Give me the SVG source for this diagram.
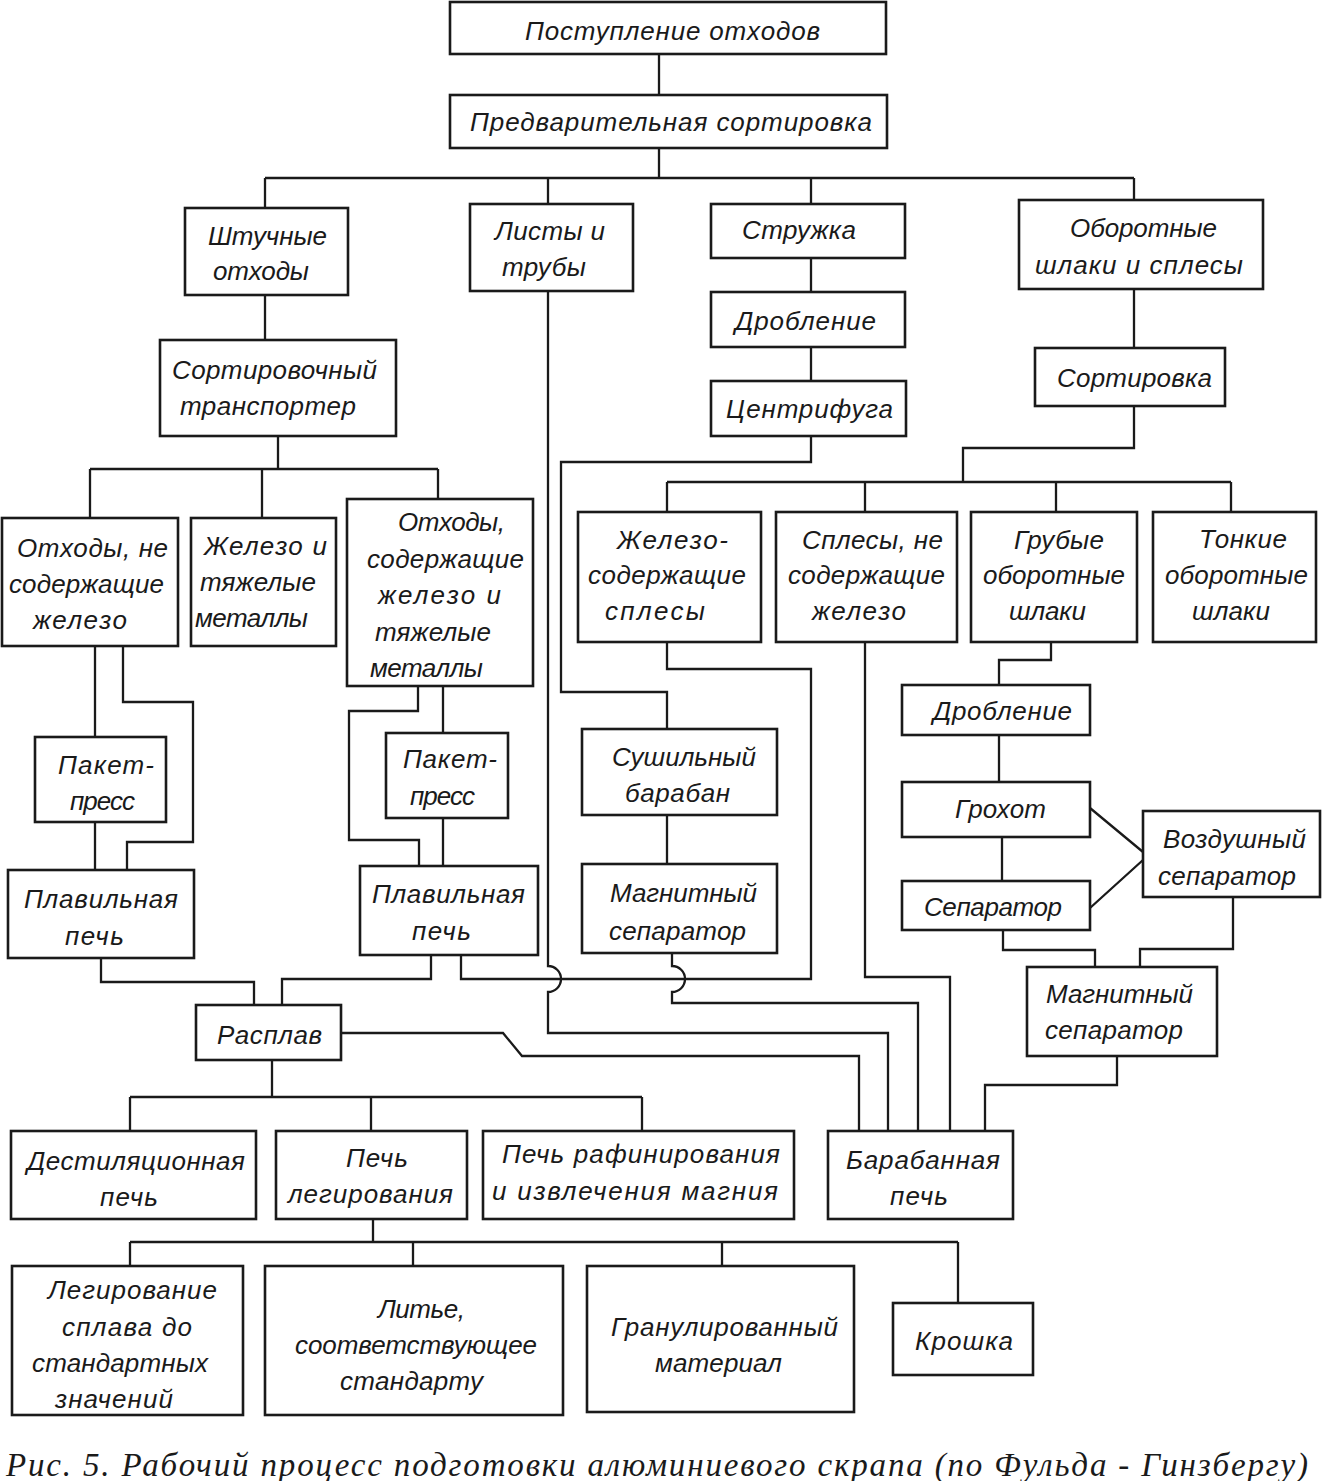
<svg xmlns="http://www.w3.org/2000/svg" width="1323" height="1481" viewBox="0 0 1323 1481">
<style>
.b{fill:#fff;stroke:#1a1a1a;stroke-width:2.6}
.c{fill:none;stroke:#1a1a1a;stroke-width:2.3;stroke-linejoin:miter}
.t{font-family:"Liberation Sans","DejaVu Sans",sans-serif;font-style:italic;font-size:26px;fill:#1a1a1a}
.cap{font-family:"Liberation Serif","DejaVu Serif",serif;font-style:italic;font-size:33px;fill:#1a1a1a}
</style>
<rect width="1323" height="1481" fill="#fff"/>
<g id="connectors">
<path class="c" d="M659 54V95"/>
<path class="c" d="M659 148V178M265 178H1134M265 178V208M548 178V204M811 178V204M1134 178V200"/>
<path class="c" d="M811 258V292M811 347V381M265 295V340M1134 289V348"/>
<path class="c" d="M811 436V462H561V692H667V729"/>
<path class="c" d="M278 436V469M90 469H438M90 469V518M262 469V518M438 469V499"/>
<path class="c" d="M1134 406V448H963V482M667 482H1231M667 482V512M865 482V512M1056 482V512M1231 482V512"/>
<path class="c" d="M1051 642V660H999V685M999 735V782M1002 837V881"/>
<path class="c" d="M1090 808L1143 852M1090 908L1143 860"/>
<path class="c" d="M1003 930V950H1095V967M1233 897V949H1140V967"/>
<path class="c" d="M1117 1056V1085H985V1131"/>
<path class="c" d="M95 646V737M95 822V870M123 646V702H193V842H127V870"/>
<path class="c" d="M443 686V733M443 818V866M418 686V711H349V840H419V866"/>
<path class="c" d="M667 815V864"/>
<path class="c" d="M101 958V982H254V1005M431 955V979H282V1005"/>
<path class="c" d="M461 955V979H811V669H667V642"/>
<path class="c" d="M548 291V966A13 13 0 0 1 548 992V1033H888V1131"/>
<path class="c" d="M672 953V966A13 13 0 0 1 672 992V1003H918V1131"/>
<path class="c" d="M865 642V977H950V1131"/>
<path class="c" d="M341 1033H503L522 1056H859V1131"/>
<path class="c" d="M272 1060V1097M130 1097H642M130 1097V1131M371 1097V1131M642 1097V1131"/>
<path class="c" d="M373 1219V1242M130 1242H958M130 1242V1266M413 1242V1266M722 1242V1266M958 1242V1303"/>
</g>
<g id="n1"><rect class="b" x="450" y="2" width="436" height="52"/><text class="t" x="525" y="40" textLength="295">Поступление отходов</text></g>
<g id="n2"><rect class="b" x="450" y="95" width="437" height="53"/><text class="t" x="470" y="131" textLength="402">Предварительная сортировка</text></g>
<g id="n3"><rect class="b" x="185" y="208" width="163" height="87"/><text class="t" x="208" y="245" textLength="119">Штучные</text><text class="t" x="213" y="280" textLength="96">отходы</text></g>
<g id="n4"><rect class="b" x="470" y="204" width="163" height="87"/><text class="t" x="495" y="240" textLength="110">Листы и</text><text class="t" x="502" y="276" textLength="84">трубы</text></g>
<g id="n5"><rect class="b" x="711" y="204" width="194" height="54"/><text class="t" x="742" y="239" textLength="114">Стружка</text></g>
<g id="n6"><rect class="b" x="1019" y="200" width="244" height="89"/><text class="t" x="1070" y="237" textLength="147">Оборотные</text><text class="t" x="1035" y="274" textLength="208">шлаки и сплесы</text></g>
<g id="n7"><rect class="b" x="711" y="292" width="194" height="55"/><text class="t" x="735" y="330" textLength="141">Дробление</text></g>
<g id="n8"><rect class="b" x="711" y="381" width="195" height="55"/><text class="t" x="726" y="418" textLength="167">Центрифуга</text></g>
<g id="n9"><rect class="b" x="160" y="340" width="236" height="96"/><text class="t" x="172" y="379" textLength="205">Сортировочный</text><text class="t" x="180" y="415" textLength="176">транспортер</text></g>
<g id="n10"><rect class="b" x="1035" y="348" width="190" height="58"/><text class="t" x="1057" y="387" textLength="155">Сортировка</text></g>
<g id="n11"><rect class="b" x="2" y="518" width="176" height="128"/><text class="t" x="17" y="557" textLength="151">Отходы, не</text><text class="t" x="9" y="593" textLength="155">содержащие</text><text class="t" x="33" y="629" textLength="94">железо</text></g>
<g id="n12"><rect class="b" x="191" y="518" width="145" height="128"/><text class="t" x="204" y="555" textLength="123">Железо и</text><text class="t" x="200" y="591" textLength="116">тяжелые</text><text class="t" x="195" y="627" textLength="113">металлы</text></g>
<g id="n13"><rect class="b" x="347" y="499" width="186" height="187"/><text class="t" x="398" y="531" textLength="107">Отходы,</text><text class="t" x="367" y="568" textLength="157">содержащие</text><text class="t" x="378" y="604" textLength="123">железо и</text><text class="t" x="375" y="641" textLength="116">тяжелые</text><text class="t" x="370" y="677" textLength="113">металлы</text></g>
<g id="n14"><rect class="b" x="578" y="512" width="183" height="130"/><text class="t" x="617" y="549" textLength="111">Железо-</text><text class="t" x="588" y="584" textLength="158">содержащие</text><text class="t" x="605" y="620" textLength="100">сплесы</text></g>
<g id="n15"><rect class="b" x="776" y="512" width="181" height="130"/><text class="t" x="802" y="549" textLength="141">Сплесы, не</text><text class="t" x="788" y="584" textLength="157">содержащие</text><text class="t" x="812" y="620" textLength="94">железо</text></g>
<g id="n16"><rect class="b" x="971" y="512" width="166" height="130"/><text class="t" x="1014" y="549" textLength="90">Грубые</text><text class="t" x="983" y="584" textLength="142">оборотные</text><text class="t" x="1009" y="620" textLength="77">шлаки</text></g>
<g id="n17"><rect class="b" x="1153" y="512" width="163" height="130"/><text class="t" x="1199" y="548" textLength="88">Тонкие</text><text class="t" x="1165" y="584" textLength="143">оборотные</text><text class="t" x="1192" y="620" textLength="78">шлаки</text></g>
<g id="n18"><rect class="b" x="902" y="685" width="188" height="50"/><text class="t" x="933" y="720" textLength="139">Дробление</text></g>
<g id="n19"><rect class="b" x="902" y="782" width="188" height="55"/><text class="t" x="955" y="818" textLength="91">Грохот</text></g>
<g id="n20"><rect class="b" x="902" y="881" width="188" height="49"/><text class="t" x="924" y="916" textLength="138">Сепаратор</text></g>
<g id="n21"><rect class="b" x="1143" y="811" width="177" height="86"/><text class="t" x="1163" y="848" textLength="143">Воздушный</text><text class="t" x="1158" y="885" textLength="138">сепаратор</text></g>
<g id="n22"><rect class="b" x="1027" y="967" width="190" height="89"/><text class="t" x="1046" y="1003" textLength="147">Магнитный</text><text class="t" x="1045" y="1039" textLength="138">сепаратор</text></g>
<g id="n23"><rect class="b" x="35" y="737" width="131" height="85"/><text class="t" x="58" y="774" textLength="96">Пакет-</text><text class="t" x="70" y="810" textLength="65">пресс</text></g>
<g id="n24"><rect class="b" x="8" y="870" width="186" height="88"/><text class="t" x="24" y="908" textLength="154">Плавильная</text><text class="t" x="65" y="945" textLength="59">печь</text></g>
<g id="n25"><rect class="b" x="386" y="733" width="122" height="85"/><text class="t" x="403" y="768" textLength="94">Пакет-</text><text class="t" x="410" y="805" textLength="65">пресс</text></g>
<g id="n26"><rect class="b" x="360" y="866" width="178" height="89"/><text class="t" x="372" y="903" textLength="153">Плавильная</text><text class="t" x="412" y="940" textLength="59">печь</text></g>
<g id="n27"><rect class="b" x="582" y="729" width="195" height="86"/><text class="t" x="612" y="766" textLength="144">Сушильный</text><text class="t" x="625" y="802" textLength="105">барабан</text></g>
<g id="n28"><rect class="b" x="582" y="864" width="195" height="89"/><text class="t" x="610" y="902" textLength="147">Магнитный</text><text class="t" x="609" y="940" textLength="137">сепаратор</text></g>
<g id="n29"><rect class="b" x="196" y="1005" width="145" height="55"/><text class="t" x="217" y="1044" textLength="105">Расплав</text></g>
<g id="n30"><rect class="b" x="11" y="1131" width="245" height="88"/><text class="t" x="27" y="1170" textLength="218">Дестиляционная</text><text class="t" x="100" y="1206" textLength="58">печь</text></g>
<g id="n31"><rect class="b" x="276" y="1131" width="191" height="88"/><text class="t" x="346" y="1167" textLength="62">Печь</text><text class="t" x="288" y="1203" textLength="165">легирования</text></g>
<g id="n32"><rect class="b" x="483" y="1131" width="311" height="88"/><text class="t" x="502" y="1163" textLength="278">Печь рафинирования</text><text class="t" x="492" y="1200" textLength="286">и извлечения магния</text></g>
<g id="n33"><rect class="b" x="828" y="1131" width="185" height="88"/><text class="t" x="846" y="1169" textLength="154">Барабанная</text><text class="t" x="890" y="1205" textLength="58">печь</text></g>
<g id="n34"><rect class="b" x="12" y="1266" width="231" height="149"/><text class="t" x="48" y="1299" textLength="169">Легирование</text><text class="t" x="62" y="1336" textLength="130">сплава до</text><text class="t" x="32" y="1372" textLength="176">стандартных</text><text class="t" x="55" y="1408" textLength="118">значений</text></g>
<g id="n35"><rect class="b" x="265" y="1266" width="298" height="149"/><text class="t" x="378" y="1318" textLength="87">Литье,</text><text class="t" x="295" y="1354" textLength="242">соответствующее</text><text class="t" x="340" y="1390" textLength="143">стандарту</text></g>
<g id="n36"><rect class="b" x="587" y="1266" width="267" height="146"/><text class="t" x="611" y="1336" textLength="227">Гранулированный</text><text class="t" x="655" y="1372" textLength="127">материал</text></g>
<g id="n37"><rect class="b" x="893" y="1303" width="140" height="72"/><text class="t" x="915" y="1350" textLength="98">Крошка</text></g>
<text class="cap" x="6" y="1476" textLength="1302">Рис. 5. Рабочий процесс подготовки алюминиевого скрапа (по Фульда - Гинзбергу)</text>
</svg>
